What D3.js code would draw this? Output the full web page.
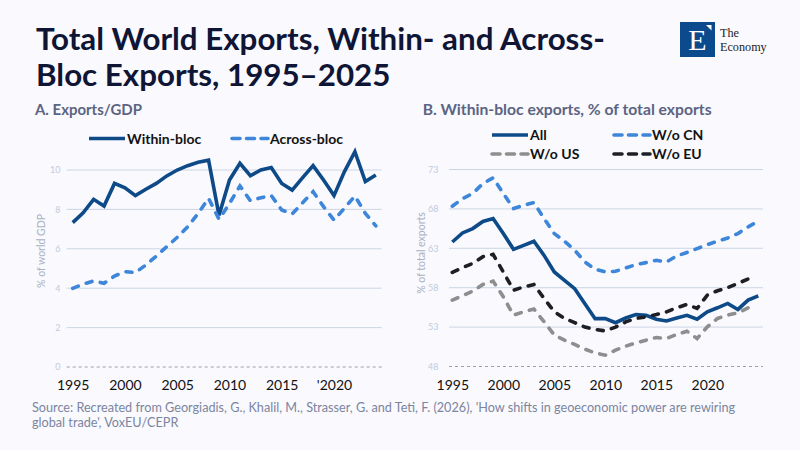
<!DOCTYPE html>
<html>
<head>
<meta charset="utf-8">
<script src="https://cdn.jsdelivr.net/npm/d3@7"></script>
<style>
  html, body { margin: 0; padding: 0; background: #f9f9fe; }
  svg { display: block; font-family: "Lato", "Noto Sans", sans-serif; }
</style>
</head>
<body>
<svg id="chart" width="800" height="450"></svg>
<script>
// ---- data ----
var yearsA = [1995,1996,1997,1998,1999,2000,2001,2002,2003,2004,2005,2006,2007,2008,2009,
              2010,2011,2012,2013,2014,2015,2016,2017,2018,2019,2020,2021,2022,2023,2024];
var withinBloc = [7.33,7.83,8.51,8.17,9.32,9.10,8.70,9.02,9.32,9.70,10.00,10.22,10.39,10.50,7.70,
                  9.49,10.34,9.71,10.00,10.13,9.32,8.98,9.61,10.22,9.49,8.70,9.92,10.93,9.41,9.75];
var acrossBloc = [3.99,4.20,4.37,4.25,4.62,4.84,4.79,5.18,5.63,6.11,6.58,7.12,7.80,8.56,7.50,
                  8.30,9.19,8.44,8.59,8.70,7.97,7.77,8.34,8.90,8.14,7.46,8.06,8.68,7.80,7.16];

var yearsB = [1995,1996,1997,1998,1999,2000,2001,2002,2003,2004,2005,2006,2007,2008,2009,
              2010,2011,2012,2013,2014,2015,2016,2017,2018,2019,2020,2021,2022,2023,2024,2025];
var allBlocs = [63.80,64.95,65.50,66.40,66.77,64.87,62.87,63.38,63.90,62.10,60.00,58.93,57.88,55.97,54.07,
                54.07,53.56,54.15,54.58,54.50,53.99,53.78,54.16,54.50,54.00,54.94,55.45,56.00,55.24,56.42,56.97];
var withoutCN = [68.34,69.30,69.95,71.22,71.94,69.95,68.04,68.46,68.80,66.77,64.87,63.89,62.75,61.27,60.34,
                 60.00,60.08,60.50,60.93,61.18,61.48,61.27,62.03,62.46,62.96,63.47,63.89,64.31,64.87,65.72,66.44];
var withoutUS = [56.43,56.97,57.57,58.42,58.84,56.85,54.52,54.94,55.28,53.67,51.98,51.34,50.80,50.20,49.73,
                 49.44,50.07,50.58,51.00,51.34,51.68,51.55,52.06,52.48,51.55,53.03,54.10,54.52,54.81,55.45];
var withoutEU = [59.94,60.53,61.09,61.93,62.23,60.00,57.68,58.10,58.40,56.64,54.94,54.10,53.56,53.00,52.70,
                 52.52,53.00,53.66,54.10,54.30,54.60,54.94,55.45,55.88,55.37,57.06,57.61,58.00,58.55,59.10];

var namesA = ["Within-bloc", "Across-bloc"];
var namesB = ["All", "W/o CN", "W/o US", "W/o EU"];

var xTicksA = [1995, 2000, 2005, 2010, 2015, 2020];
var xTickLabelsA = ["1995", "2000", "2005", "2010", "2015", "'2020"];
var xTicksB = [1995, 2000, 2005, 2010, 2015, 2020];
var xTickLabelsB = ["1995", "2000", "2005", "2010", "2015", "2020"];
var yTicksA = [0, 2, 4, 6, 8, 10];
var yTicksB = [48, 53, 58, 63, 68, 73];

var titleLines = ["Total World Exports, Within- and Across-", "Bloc Exports, 1995\u20132025"];
var sourceLines = ["Source: Recreated from Georgiadis, G., Khalil, M., Strasser, G. and Teti, F. (2026), 'How shifts in geoeconomic power are rewiring",
                   "global trade', VoxEU/CEPR"];
var brandLines = ["The", "Economy"];

// ---- styles ----
var seriesColor = d3.scaleOrdinal()
    .domain(["Within-bloc", "Across-bloc", "All", "W/o CN", "W/o US", "W/o EU"])
    .range(["#0d4a87", "#3d86d9", "#0d4a87", "#3d86d9", "#8e8e8e", "#1e1f24"]);
var dashedSeries = ["Across-bloc", "W/o CN", "W/o US", "W/o EU"];

var svg = d3.select("#chart");

// fit a text element to a target width by adjusting its font size
function fitWidth(sel, w) {
    var l = sel.node().getComputedTextLength();
    var fs = parseFloat(sel.style("font-size"));
    sel.style("font-size", (fs * w / l).toFixed(2) + "px");
    return fs * w / l;
}

// ---- title ----
var t1 = svg.append("text").attr("x", 36).attr("y", 50)
    .style("font-size", "30px").style("font-weight", 700).attr("fill", "#0f1535")
    .text(titleLines[0]);
var titleSize = fitWidth(t1, 569);
svg.append("text").attr("x", 36).attr("y", 86)
    .style("font-size", titleSize + "px").style("font-weight", 700).attr("fill", "#0f1535")
    .text(titleLines[1]);

// ---- logo ----
var logo = svg.append("g");
logo.append("rect").attr("x", 680).attr("y", 22).attr("width", 35).attr("height", 35).attr("fill", "#0b4a8c");
logo.append("text").attr("x", 697.5).attr("y", 50).attr("text-anchor", "middle")
    .style("font-family", "'Liberation Serif', 'DejaVu Serif', serif").style("font-size", "30px")
    .attr("fill", "#fff").text("E");
logo.append("path").attr("d", "M706,25 L711.5,25 L711.5,30.5 Z").attr("fill", "#fff");
logo.selectAll(".brand").data(brandLines).enter().append("text")
    .attr("x", 720).attr("y", (d, i) => 36.5 + i * 14)
    .style("font-family", "'Liberation Serif', 'DejaVu Serif', serif").style("font-size", "12.2px")
    .attr("fill", "#1c1c24")
    .text(d => d);

// ---- panel drawing ----
function drawPanel(cfg) {
    var g = svg.append("g");

    var x = d3.scaleLinear().domain(cfg.xDomain).range(cfg.xRange);
    var y = d3.scaleLinear().domain(cfg.yDomain).range(cfg.yRange);

    // subtitle
    var st = g.append("text").attr("x", cfg.subX).attr("y", 115)
        .style("font-size", "15px").style("font-weight", 700).attr("fill", "#5b6482")
        .text(cfg.subtitle);
    fitWidth(st, cfg.subW);

    // grid lines (the bottom one is dashed)
    g.selectAll(".grid").data(cfg.yTicks).enter().append("line")
        .attr("x1", cfg.gridX[0]).attr("x2", cfg.gridX[1])
        .attr("y1", d => y(d)).attr("y2", d => y(d))
        .attr("stroke", (d, i) => i === 0 ? "#9a9fab" : "#cdd5e4")
        .attr("stroke-width", 1)
        .attr("stroke-dasharray", (d, i) => i === 0 ? "3,3" : null);

    // y axis
    var yAxis = d3.axisLeft(y).tickValues(cfg.yTicks).tickSize(0).tickPadding(0);
    var ya = g.append("g").attr("transform", "translate(" + cfg.yLabelX + ",0)").call(yAxis);
    ya.select(".domain").remove();
    ya.selectAll("text").attr("fill", "#c3cbdc").style("font-size", "9px")
        .style("font-family", "'Lato', 'Noto Sans', sans-serif");

    // y axis title
    g.append("text")
        .attr("transform", "translate(" + cfg.yTitleX + "," + cfg.yTitleY + ") rotate(-90)")
        .attr("text-anchor", "middle").attr("fill", "#a9b1c3").style("font-size", "10.5px")
        .text(cfg.yTitle);

    // x axis
    var xAxis = d3.axisBottom(x).tickValues(cfg.xTicks).tickSize(0).tickPadding(0)
        .tickFormat((d, i) => cfg.xTickLabels[i]);
    var xa = g.append("g").attr("transform", "translate(0,380)").call(xAxis);
    xa.select(".domain").remove();
    xa.selectAll("text").attr("fill", "#111").style("font-size", "14px")
        .style("font-family", "'Lato', 'Noto Sans', sans-serif");

    // lines
    var line = d3.line()
        .x(d => x(d[0]))
        .y(d => y(d[1]));
    cfg.series.forEach(function (s) {
        var pts = s.values.map((v, i) => [cfg.years[i], v]);
        var dashed = dashedSeries.indexOf(s.name) >= 0;
        g.append("path").datum(pts)
            .attr("d", line)
            .attr("fill", "none")
            .attr("stroke", seriesColor(s.name))
            .attr("stroke-width", 3.6)
            .attr("stroke-linejoin", "miter")
            .attr("stroke-linecap", dashed ? "round" : "butt")
            .attr("stroke-dasharray", dashed ? "6,8.5" : null);
    });

    // legend
    var leg = g.selectAll(".leg").data(cfg.series.map(s => s.name)).enter().append("g")
        .attr("transform", (d, i) => "translate(" + cfg.legendX[i % cfg.legendX.length] + "," +
            cfg.legendY[Math.floor(i / cfg.legendX.length)] + ")");
    leg.append("line").attr("x1", 0).attr("x2", cfg.legendLineW).attr("y1", 0).attr("y2", 0)
        .attr("stroke", d => seriesColor(d)).attr("stroke-width", 3.6)
        .attr("stroke-linecap", d => dashedSeries.indexOf(d) >= 0 ? "round" : "butt")
        .attr("stroke-dasharray", d => dashedSeries.indexOf(d) >= 0 ? "8,6.5" : null);
    leg.append("text").attr("x", cfg.legendLineW + 2).attr("y", 5)
        .style("font-size", "14px").style("font-weight", 700).attr("fill", "#121212")
        .text(d => d);
}

drawPanel({
    subtitle: "A. Exports/GDP", subX: 35, subW: 107,
    xDomain: [1995, 2024], xRange: [72.7, 375.8], gridX: [66.7, 381.7],
    yDomain: [0, 10], yRange: [367, 170],
    yTicks: yTicksA, xTicks: xTicksA, xTickLabels: xTickLabelsA,
    yLabelX: 60.5, yTitle: "% of world GDP", yTitleX: 45, yTitleY: 251,
    years: yearsA,
    series: [{ name: namesA[0], values: withinBloc }, { name: namesA[1], values: acrossBloc }],
    legendX: [89, 232], legendY: [138.5], legendLineW: 36
});

drawPanel({
    subtitle: "B. Within-bloc exports, % of total exports", subX: 422.7, subW: 289,
    xDomain: [1995, 2025], xRange: [452.3, 758.3], gridX: [449, 763],
    yDomain: [48, 73], yRange: [366.5, 169.5],
    yTicks: yTicksB, xTicks: xTicksB, xTickLabels: xTickLabelsB,
    yLabelX: 438.5, yTitle: "% of total exports", yTitleX: 425, yTitleY: 253,
    years: yearsB,
    series: [{ name: namesB[0], values: allBlocs }, { name: namesB[1], values: withoutCN },
             { name: namesB[2], values: withoutUS }, { name: namesB[3], values: withoutEU }],
    legendX: [492, 614], legendY: [135, 154], legendLineW: 36
});

// ---- source ----
var s1 = svg.append("text").attr("x", 32).attr("y", 412)
    .style("font-size", "12px").attr("fill", "#7b85a0").text(sourceLines[0]);
var srcSize = fitWidth(s1, 704);
svg.append("text").attr("x", 32).attr("y", 427)
    .style("font-size", srcSize + "px").attr("fill", "#7b85a0").text(sourceLines[1]);
</script>
</body>
</html>
